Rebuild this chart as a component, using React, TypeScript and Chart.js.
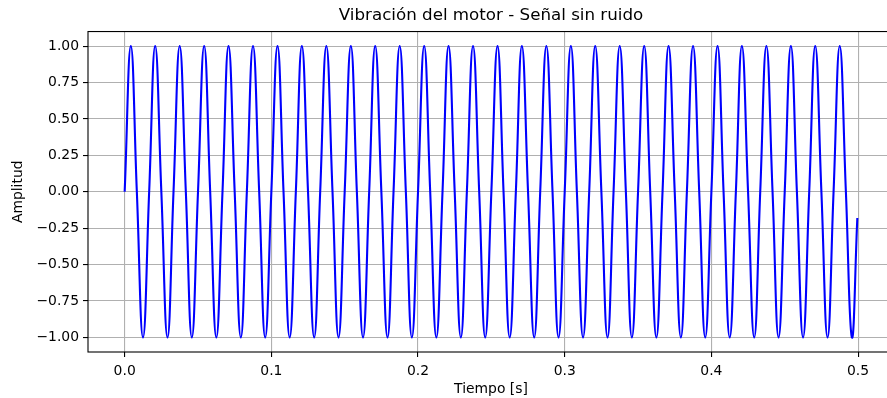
import React, { useEffect, useRef } from "react";
import { Chart, registerables } from "chart.js";

Chart.register(...registerables);

// Sample times [s] at each quarter period of the vibration
const timeSeconds: number[] = [
  0, 0.0042, 0.0083, 0.0125, 0.0167, 0.0208, 0.025, 0.0292, 0.0333, 0.0375, 0.0417, 0.0458,
  0.05, 0.0542, 0.0583, 0.0625, 0.0667, 0.0708, 0.075, 0.0792, 0.0833, 0.0875, 0.0917, 0.0958,
  0.1, 0.1042, 0.1083, 0.1125, 0.1167, 0.1208, 0.125, 0.1292, 0.1333, 0.1375, 0.1417, 0.1458,
  0.15, 0.1542, 0.1583, 0.1625, 0.1667, 0.1708, 0.175, 0.1792, 0.1833, 0.1875, 0.1917, 0.1958,
  0.2, 0.2042, 0.2083, 0.2125, 0.2167, 0.2208, 0.225, 0.2292, 0.2333, 0.2375, 0.2417, 0.2458,
  0.25, 0.2542, 0.2583, 0.2625, 0.2667, 0.2708, 0.275, 0.2792, 0.2833, 0.2875, 0.2917, 0.2958,
  0.3, 0.3042, 0.3083, 0.3125, 0.3167, 0.3208, 0.325, 0.3292, 0.3333, 0.3375, 0.3417, 0.3458,
  0.35, 0.3542, 0.3583, 0.3625, 0.3667, 0.3708, 0.375, 0.3792, 0.3833, 0.3875, 0.3917, 0.3958,
  0.4, 0.4042, 0.4083, 0.4125, 0.4167, 0.4208, 0.425, 0.4292, 0.4333, 0.4375, 0.4417, 0.4458,
  0.45, 0.4542, 0.4583, 0.4625, 0.4667, 0.4708, 0.475, 0.4792, 0.4833, 0.4875, 0.4917, 0.4958,
  0.4995,
];

// Amplitude at those times (zero, peak, zero, trough ...), last sample read at -0.18
const amplitude: number[] = [
  0, 1, 0, -1, 0, 1, 0, -1, 0, 1, 0, -1,
  0, 1, 0, -1, 0, 1, 0, -1, 0, 1, 0, -1,
  0, 1, 0, -1, 0, 1, 0, -1, 0, 1, 0, -1,
  0, 1, 0, -1, 0, 1, 0, -1, 0, 1, 0, -1,
  0, 1, 0, -1, 0, 1, 0, -1, 0, 1, 0, -1,
  0, 1, 0, -1, 0, 1, 0, -1, 0, 1, 0, -1,
  0, 1, 0, -1, 0, 1, 0, -1, 0, 1, 0, -1,
  0, 1, 0, -1, 0, 1, 0, -1, 0, 1, 0, -1,
  0, 1, 0, -1, 0, 1, 0, -1, 0, 1, 0, -1,
  0, 1, 0, -1, 0, 1, 0, -1, 0, 1, 0, -1,
  -0.18,
];

const xTickValues: number[] = [0, 0.1, 0.2, 0.3, 0.4, 0.5];
const yTickValues: number[] = [-1, -0.75, -0.5, -0.25, 0, 0.25, 0.5, 0.75, 1];

const titleText = "Vibración del motor - Señal sin ruido";
const xLabel = "Tiempo [s]";
const yLabel = "Amplitud";

const FONT = "'DejaVu Sans', sans-serif";

const framePlugin = {
  id: "frame",
  afterDraw(chart: any) {
    const { ctx, chartArea } = chart;
    ctx.save();
    ctx.strokeStyle = "#000";
    ctx.lineWidth = 1.1;
    ctx.strokeRect(chartArea.left, chartArea.top, chartArea.right - chartArea.left, chartArea.bottom - chartArea.top);
    ctx.restore();
  },
};

export default function App() {
  const ref = useRef<HTMLCanvasElement>(null);

  useEffect(() => {
    document.body.style.margin = "0";
    const canvas = ref.current!;
    const points = timeSeconds.map((t, i) => ({ x: t, y: amplitude[i] }));
    const chart = new Chart(canvas, {
      type: "line",
      data: {
        datasets: [
          {
            data: points,
            borderColor: "#0000ff",
            borderWidth: 2.1,
            pointRadius: 0,
            tension: 0.45,
            fill: false,
          },
        ],
      },
      options: {
        responsive: false,
        animation: false,
        devicePixelRatio: 1,
        layout: { padding: { left: 0, right: 6, top: 0, bottom: 0 } },
        plugins: {
          legend: { display: false },
          tooltip: { enabled: false },
          title: {
            display: true,
            text: titleText,
            fullSize: false,
            color: "#000",
            font: { family: FONT, size: 16.7, weight: "normal" },
            padding: { top: 6, bottom: 5.5 },
          },
        },
        scales: {
          x: {
            type: "linear",
            min: -0.025,
            max: 0.5245,
            afterBuildTicks: (scale: any) => {
              scale.ticks = xTickValues.map((v) => ({ value: v }));
            },
            afterFit: (scale: any) => {
              scale.height = 46;
            },
            ticks: {
              color: "#000",
              font: { family: FONT, size: 13.9 },
              padding: 6,
              maxRotation: 0,
              autoSkip: false,
              callback: (v: any) => Number(v).toFixed(1),
            },
            grid: {
              color: "#b0b0b0",
              lineWidth: 1.1,
              tickColor: "#000",
              tickLength: 5,
              drawTicks: true,
            },
            border: { display: false },
            title: {
              display: true,
              text: xLabel,
              color: "#000",
              font: { family: FONT, size: 13.9 },
              padding: { top: 0, bottom: 0 },
            },
          },
          y: {
            type: "linear",
            min: -1.1,
            max: 1.1,
            afterBuildTicks: (scale: any) => {
              scale.ticks = yTickValues.map((v) => ({ value: v }));
            },
            afterFit: (scale: any) => {
              scale.width = 88;
            },
            ticks: {
              color: "#000",
              font: { family: FONT, size: 13.9 },
              padding: 4,
              autoSkip: false,
              callback: (v: any) => {
                const s = Math.abs(Number(v)).toFixed(2);
                return Number(v) < 0 ? "\u2212" + s : s;
              },
            },
            grid: {
              color: "#b0b0b0",
              lineWidth: 1.1,
              tickColor: "#000",
              tickLength: 5,
              drawTicks: true,
            },
            border: { display: false },
            title: {
              display: true,
              text: yLabel,
              color: "#000",
              font: { family: FONT, size: 13.9 },
              padding: { top: 10, bottom: 0 },
            },
          },
        },
      },
      plugins: [framePlugin],
    });
    return () => chart.destroy();
  }, []);

  return (
    <div style={{ position: "fixed", left: 0, top: 0, width: 887, height: 398, overflow: "hidden", background: "#fff" }}>
      <canvas ref={ref} width={900} height={398} style={{ display: "block" }} />
    </div>
  );
}
